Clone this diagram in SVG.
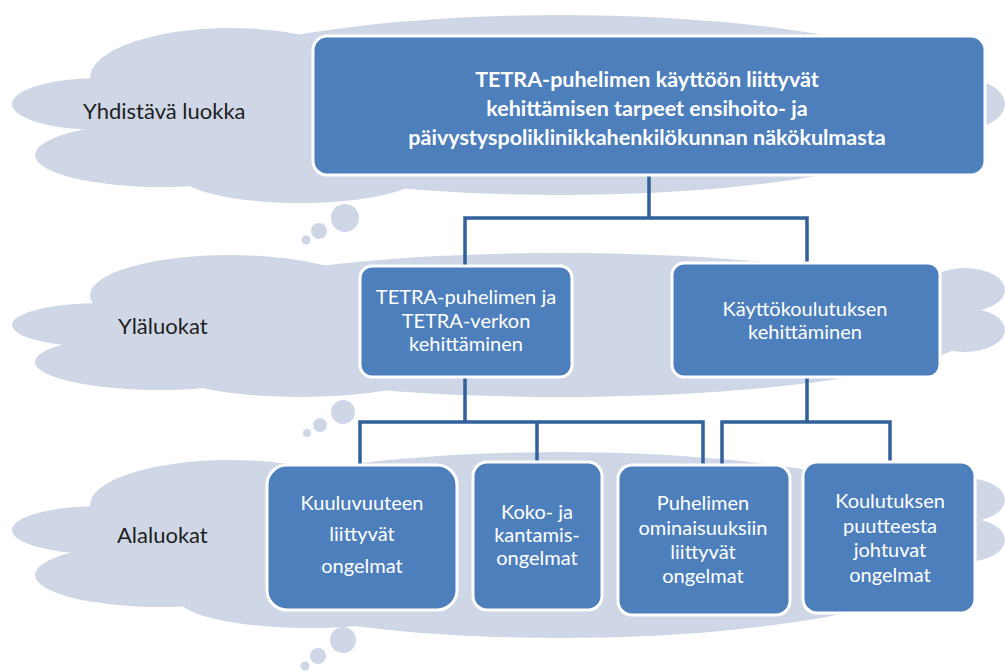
<svg xmlns="http://www.w3.org/2000/svg" width="1005" height="671" viewBox="0 0 1005 671">
<style>
.cloud{fill:#cfd7e6}
.box{fill:#4d7fbc;stroke:#ffffff;stroke-width:3}
.conn{fill:none;stroke:#31609a;stroke-width:3.5}
.lbl{font-family:Lato,"Liberation Sans",sans-serif;font-size:22px;fill:#1e1e1e}
.bt{font-family:Lato,"Liberation Sans",sans-serif;font-size:20px;fill:#ffffff;text-anchor:middle}
.tt{font-family:Lato,"Liberation Sans",sans-serif;font-size:21.5px;font-weight:bold;fill:#ffffff;text-anchor:middle}
</style>
<rect width="1005" height="671" fill="#ffffff"/>
<g id="cloud1" class="cloud">
<ellipse cx="560" cy="105" rx="420" ry="90"/>
<ellipse cx="230" cy="78" rx="140" ry="50"/>
<ellipse cx="100" cy="104" rx="88" ry="26"/>
<ellipse cx="160" cy="155" rx="125" ry="32"/>
<ellipse cx="300" cy="175" rx="120" ry="28"/>
<ellipse cx="960" cy="104" rx="45" ry="26"/>
<circle cx="345" cy="218" r="14"/>
<circle cx="319" cy="231" r="8"/>
<circle cx="306" cy="240" r="4.5"/>
</g>
<g id="cloud2" class="cloud">
<ellipse cx="560" cy="325" rx="420" ry="72"/>
<ellipse cx="230" cy="295" rx="140" ry="40"/>
<ellipse cx="100" cy="325" rx="88" ry="22"/>
<ellipse cx="160" cy="362" rx="125" ry="28"/>
<ellipse cx="300" cy="375" rx="120" ry="22"/>
<ellipse cx="965" cy="290" rx="40" ry="22"/>
<ellipse cx="965" cy="330" rx="40" ry="22"/>
<circle cx="343" cy="412" r="12"/>
<circle cx="320" cy="425" r="7"/>
<circle cx="307" cy="433" r="4"/>
</g>
<g id="cloud3" class="cloud">
<ellipse cx="560" cy="545" rx="420" ry="93"/>
<ellipse cx="230" cy="505" rx="140" ry="45"/>
<ellipse cx="100" cy="530" rx="88" ry="24"/>
<ellipse cx="160" cy="575" rx="125" ry="32"/>
<ellipse cx="310" cy="600" rx="130" ry="28"/>
<ellipse cx="965" cy="500" rx="40" ry="22"/>
<ellipse cx="965" cy="540" rx="40" ry="22"/>
<circle cx="343" cy="640" r="13"/>
<circle cx="318" cy="656" r="8"/>
<circle cx="305" cy="666" r="4.5"/>
</g>
<g id="labels">
<text class="lbl" x="83" y="119">Yhdistävä luokka</text>
<text class="lbl" x="118" y="334">Yläluokat</text>
<text class="lbl" x="117" y="543">Alaluokat</text>
</g>
<g id="connectors">
<path class="conn" d="M649 175 V218 H465 V266 M649 218 H807 V263"/>
<path class="conn" d="M465 377 V422 M360 465 V422 H703 V465 M537 422 V462"/>
<path class="conn" d="M807 377 V422 M722 465 V422 H890 V462"/>
</g>
<g id="top">
<rect class="box" x="313" y="36" width="672" height="139" rx="14"/>
<text class="tt" x="647" y="87">TETRA-puhelimen käyttöön liittyvät</text>
<text class="tt" x="647" y="116">kehittämisen tarpeet ensihoito- ja</text>
<text class="tt" x="647" y="145">päivystyspoliklinikkahenkilökunnan näkökulmasta</text>
</g>
<g id="upper1">
<rect class="box" x="360" y="266" width="212" height="111" rx="12"/>
<text class="bt" x="466" y="304">TETRA-puhelimen ja</text>
<text class="bt" x="466" y="328">TETRA-verkon</text>
<text class="bt" x="466" y="351">kehittäminen</text>
</g>
<g id="upper2">
<rect class="box" x="672" y="263" width="268" height="114" rx="12"/>
<text class="bt" x="805" y="316">Käyttökoulutuksen</text>
<text class="bt" x="805" y="339">kehittäminen</text>
</g>
<g id="sub1">
<rect class="box" x="267" y="465" width="190" height="145" rx="20"/>
<text class="bt" x="362" y="510">Kuuluvuuteen</text>
<text class="bt" x="362" y="541">liittyvät</text>
<text class="bt" x="362" y="573">ongelmat</text>
</g>
<g id="sub2">
<rect class="box" x="473" y="462" width="129" height="148" rx="14"/>
<text class="bt" x="537" y="519">Koko- ja</text>
<text class="bt" x="537" y="542">kantamis-</text>
<text class="bt" x="537" y="565">ongelmat</text>
</g>
<g id="sub3">
<rect class="box" x="618" y="465" width="172" height="150" rx="14"/>
<text class="bt" x="703" y="510">Puhelimen</text>
<text class="bt" x="703" y="535">ominaisuuksiin</text>
<text class="bt" x="703" y="559">liittyvät</text>
<text class="bt" x="703" y="583">ongelmat</text>
</g>
<g id="sub4">
<rect class="box" x="803" y="462" width="172" height="151" rx="14"/>
<text class="bt" x="890" y="508">Koulutuksen</text>
<text class="bt" x="890" y="533">puutteesta</text>
<text class="bt" x="890" y="557">johtuvat</text>
<text class="bt" x="890" y="582">ongelmat</text>
</g>
</svg>
